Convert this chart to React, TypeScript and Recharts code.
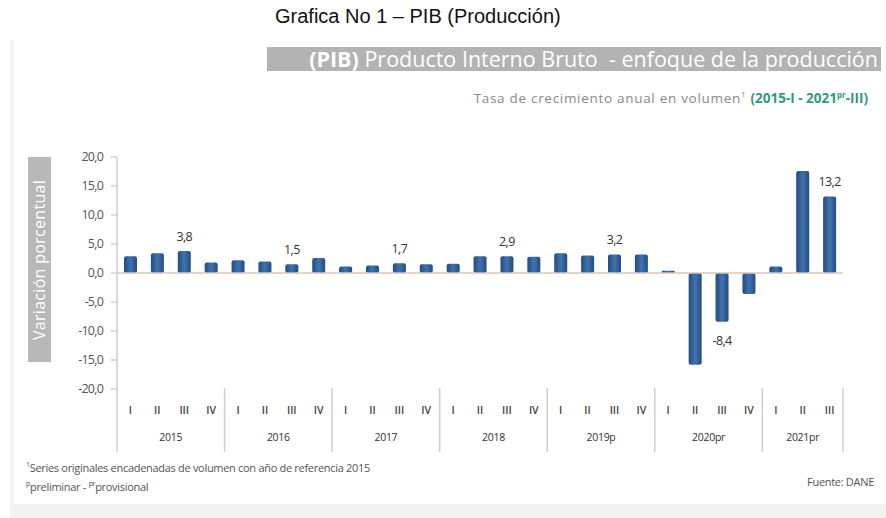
import React from "react";
import { BarChart, Bar, XAxis, YAxis, ReferenceLine, LabelList } from "recharts";

// quarter labels, year of each quarter, annual growth (%)
const quarters = [
  "I", "II", "III", "IV", "I", "II", "III", "IV", "I", "II", "III", "IV",
  "I", "II", "III", "IV", "I", "II", "III", "IV", "I", "II", "III", "IV",
  "I", "II", "III",
];
const years = [
  "2015", "2015", "2015", "2015", "2016", "2016", "2016", "2016", "2017", "2017", "2017", "2017",
  "2018", "2018", "2018", "2018", "2019p", "2019p", "2019p", "2019p", "2020pr", "2020pr", "2020pr", "2020pr",
  "2021pr", "2021pr", "2021pr",
];
const growth = [
  2.9, 3.4, 3.8, 1.8, 2.2, 2.0, 1.5, 2.6, 1.1, 1.3, 1.7, 1.5,
  1.6, 2.9, 2.9, 2.8, 3.4, 3.0, 3.2, 3.2, 0.4, -15.8, -8.4, -3.6,
  1.1, 17.6, 13.2,
];
const yTicks = [-20, -15, -10, -5, 0, 5, 10, 15, 20];

const data = quarters.map((q, i) => ({ key: `${years[i]}-${q}`, q, year: years[i], v: growth[i] }));

const W = 886;
const H = 470;
const PLOT_L = 117;
const PLOT_R = 843;
const PLOT_T = 157;
const PLOT_B = 389;
const BW = (PLOT_R - PLOT_L) / data.length;

const fmt = (n: number) => n.toFixed(1).replace(".", ",");
const FONT = "'Open Sans', 'Noto Sans', sans-serif";

function QuarterTick(props: any) {
  const { x, y, payload } = props;
  const i = payload.index;
  const d = data[i];
  const n = years.filter((yy) => yy === d.year).length;
  const first = i === 0 || years[i - 1] !== d.year;
  const last = i === data.length - 1;
  return (
    <g>
      <text x={x} y={y + 25} textAnchor="middle" fontSize={10.5} fontWeight={600} fill="#444" fontFamily={FONT}>
        {d.q}
      </text>
      {first && (
        <>
          <line x1={x - BW / 2} x2={x - BW / 2} y1={y - 1} y2={y + 63} stroke="#cfcfcf" strokeWidth={1.5} />
          <text x={x - BW / 2 + (n * BW) / 2} y={y + 52} textAnchor="middle" fontSize={10.5} fill="#333" fontFamily={FONT} letterSpacing={-0.3}>
            {d.year}
          </text>
        </>
      )}
      {last && <line x1={x + BW / 2} x2={x + BW / 2} y1={y - 1} y2={y + 63} stroke="#cfcfcf" strokeWidth={1.5} />}
    </g>
  );
}

function ValueLabel(props: any) {
  const { x, y, width, height, value, index } = props;
  if (data[index].q !== "III") return null;
  const top = Math.min(y, y + height);
  const bottom = Math.max(y, y + height);
  const ty = value < 0 ? bottom + 23 : top - 10;
  return (
    <text x={x + width / 2} y={ty} textAnchor="middle" fontSize={12.5} fill="#333" fontFamily={FONT} letterSpacing={-0.6}>
      {fmt(value)}
    </text>
  );
}

export default function App() {
  return (
    <div style={{ position: "fixed", left: 0, top: 0, width: W, height: 518, background: "#fff", overflow: "hidden" }}>
      {/* panel frame */}
      <div style={{ position: "absolute", left: 10, top: 40, width: 876, height: 478, background: "#f3f3f3" }} />
      <div style={{ position: "absolute", left: 14, top: 40, width: 872, height: 464, background: "#fff" }} />

      <div style={{ position: "absolute", left: 275, top: 5, fontFamily: "'Liberation Sans', Arial, sans-serif", fontSize: 20, color: "#111" }}>
        Grafica No 1 – PIB (Producción)
      </div>

      <div
        style={{
          position: "absolute", left: 267, top: 47, width: 614, height: 24, background: "#b3b3b3",
          color: "#fff", fontFamily: FONT, fontSize: 21.5, lineHeight: "24px", textAlign: "right",
          paddingRight: 3, boxSizing: "border-box", whiteSpace: "nowrap", letterSpacing: 0,
        }}
      >
        <b>(PIB)</b> Producto Interno Bruto&nbsp; - enfoque de la producción
      </div>

      <div
        style={{
          position: "absolute", right: 18, top: 88, fontFamily: FONT, fontSize: 13.5, color: "#8a8a8a",
          whiteSpace: "nowrap", letterSpacing: 0.7,
        }}
      >
        Tasa de crecimiento anual en volumen<sup style={{ fontSize: 8 }}>1</sup>{" "}
        <span style={{ color: "#2f9a7a", fontWeight: 700, letterSpacing: 0 }}>
          (2015-I - 2021<sup style={{ fontSize: 8 }}>pr</sup>-III)
        </span>
      </div>

      <div
        style={{
          position: "absolute", left: 28, top: 157, width: 23, height: 205, background: "#b8b8b8",
          display: "flex", alignItems: "center", justifyContent: "center",
        }}
      >
        <div style={{ transform: "rotate(-90deg)", whiteSpace: "nowrap", color: "#fff", fontFamily: FONT, fontSize: 16, letterSpacing: 0.3 }}>
          Variación porcentual
        </div>
      </div>

      <div style={{ position: "absolute", left: 0, top: 0 }}>
        <BarChart
          width={W}
          height={H}
          data={data}
          margin={{ top: PLOT_T, right: W - PLOT_R, left: PLOT_L - 60, bottom: H - PLOT_B - 65 }}
        >
          <defs>
            <linearGradient id="barFill" x1="0" y1="0" x2="1" y2="0">
              <stop offset="0%" stopColor="#234c82" />
              <stop offset="50%" stopColor="#4272ac" />
              <stop offset="100%" stopColor="#234c82" />
            </linearGradient>
          </defs>
          <XAxis
            dataKey="key"
            interval={0}
            axisLine={false}
            tickLine={false}
            tickSize={0}
            tickMargin={0}
            height={65}
            tick={<QuarterTick />}
          />
          <YAxis
            width={60}
            domain={[-20, 20]}
            ticks={yTicks}
            tickFormatter={fmt}
            axisLine={{ stroke: "#cfcfcf", strokeWidth: 1.5 }}
            tickLine={{ stroke: "#bbb" }}
            tickSize={6}
            tickMargin={8}
            tick={{ fontSize: 12.5, fill: "#555", fontFamily: FONT, letterSpacing: -0.8 }}
          />
          <ReferenceLine y={0} stroke="#dcc6b2" strokeWidth={1.5} />
          <Bar dataKey="v" barSize={13} fill="url(#barFill)" radius={2} isAnimationActive={false}>
            <LabelList dataKey="v" content={<ValueLabel />} />
          </Bar>
        </BarChart>
      </div>

      <div style={{ position: "absolute", left: 26, top: 457, fontFamily: FONT, fontSize: 11, color: "#555", lineHeight: "16px", letterSpacing: -0.3 }}>
        <div>
          <sup style={{ fontSize: 7 }}>1</sup>Series originales encadenadas de volumen con año de referencia 2015
        </div>
        <div>
          <sup style={{ fontSize: 7 }}>p</sup>preliminar - <sup style={{ fontSize: 7 }}>pr</sup>provisional
        </div>
      </div>
      <div style={{ position: "absolute", right: 12, top: 474, fontFamily: FONT, fontSize: 11, color: "#555", letterSpacing: -0.3 }}>
        Fuente: DANE
      </div>
    </div>
  );
}
